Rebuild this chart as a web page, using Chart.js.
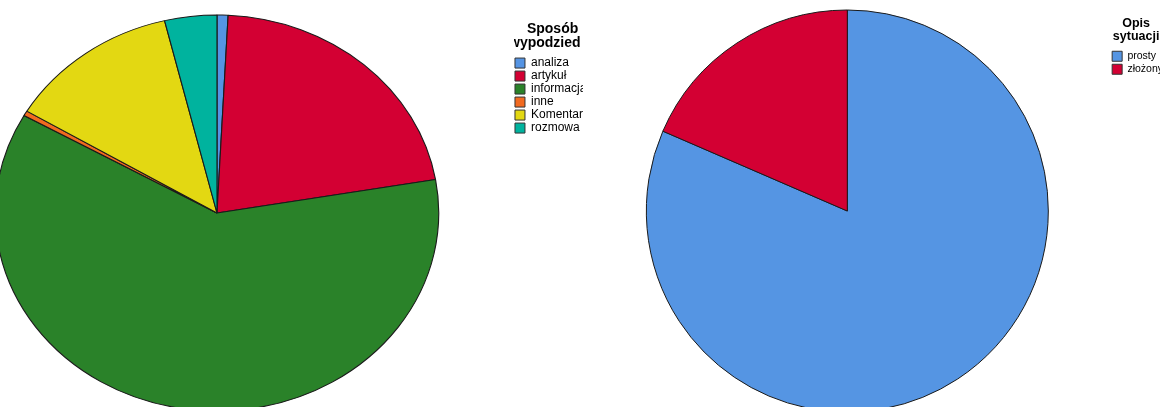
<!DOCTYPE html>
<html>
<head>
<meta charset="utf-8">
<script src="https://cdn.jsdelivr.net/npm/chart.js@4.4.1/dist/chart.umd.min.js"></script>
<style>
  html, body { margin: 0; padding: 0; background: #fff; }
  #wrap { position: relative; width: 1160px; height: 407px; overflow: hidden; }
  .box { position: absolute; top: 0; height: 407px; overflow: hidden; }
  #boxLewy { left: 0; width: 583px; }
  #boxPrawy { left: 585px; width: 575px; }
  canvas { position: absolute; top: 0; }
  #wykresSposob { left: -80px; }
  #wykresOpis { left: 0; }
</style>
</head>
<body>
<div id="wrap">
  <div class="box" id="boxLewy"><canvas id="wykresSposob" width="679" height="407"></canvas></div>
  <div class="box" id="boxPrawy"><canvas id="wykresOpis" width="588" height="407"></canvas></div>
</div>
<script>
// dane (udział w %)
const sposobLabels = ['analiza', 'artykuł', 'informacja', 'inne', 'Komentarz', 'rozmowa'];
const sposobValues = [0.8, 21.5, 60.9, 0.4, 12.6, 3.8];
const sposobColors = ['#5594E3', '#D30033', '#2A8229', '#F26A20', '#E3D812', '#00B39E'];

const opisLabels = ['prosty', 'złożony'];
const opisValues = [81.5, 18.5];
const opisColors = ['#5595E3', '#D30033'];

// tytuły legend (twarde spacje na końcu przesuwają wyśrodkowany tekst w lewo)
const sposobTytul = ['Sposób\u00a0\u00a0', 'wypodzied\u00a0\u00a0\u00a0\u00a0\u00a0\u00a0'];
const opisTytul = ['Opis\u00a0\u00a0\u00a0', 'sytuacji\u00a0\u00a0\u00a0'];

// rozciąga koło w poziomie (wykres po lewej jest lekko owalny)
const owal = {
  id: 'owal',
  beforeDatasetsDraw(chart, args, opts) {
    const arc = chart.getDatasetMeta(0).data[0];
    const ctx = chart.ctx;
    ctx.save();
    ctx.translate(arc.x, arc.y);
    ctx.scale(opts.sx || 1, 1);
    ctx.translate(-arc.x, -arc.y);
  },
  afterDatasetsDraw(chart) {
    chart.ctx.restore();
  }
};

function opcjeLegendy(tytul, rozmiarTytulu, rozmiar, odstep, odstepTytulu) {
  return {
    position: 'right',
    align: 'start',
    title: {
      display: true,
      text: tytul,
      color: '#000',
      font: { family: 'Liberation Sans', size: rozmiarTytulu, weight: 'bold', lineHeight: 1.04 },
      padding: { top: odstepTytulu[0], bottom: odstepTytulu[1] }
    },
    labels: {
      boxWidth: 10,
      boxHeight: 10,
      padding: odstep,
      color: '#222',
      font: { family: 'Liberation Sans', size: rozmiar },
      generateLabels(chart) {
        const ds = chart.data.datasets[0];
        return chart.data.labels.map((l, i) => ({
          text: l,
          fillStyle: ds.backgroundColor[i],
          strokeStyle: '#333',
          lineWidth: 1,
          index: i
        }));
      }
    }
  };
}

new Chart(document.getElementById('wykresSposob'), {
  type: 'pie',
  data: {
    labels: sposobLabels,
    datasets: [{
      data: sposobValues,
      backgroundColor: sposobColors,
      borderColor: '#1a1a1a',
      borderWidth: 1
    }]
  },
  options: {
    responsive: false,
    animation: false,
    radius: 198,
    layout: { padding: { left: 0, top: 19, right: 0, bottom: 0 } },
    plugins: {
      owal: { sx: 1.12 },
      legend: opcjeLegendy(sposobTytul, 14, 12, 1, [3, 19.5]),
      tooltip: { enabled: false }
    }
  },
  plugins: [owal]
});

new Chart(document.getElementById('wykresOpis'), {
  type: 'pie',
  data: {
    labels: opisLabels,
    datasets: [{
      data: opisValues,
      backgroundColor: opisColors,
      borderColor: '#1a1a1a',
      borderWidth: 1
    }]
  },
  options: {
    responsive: false,
    animation: false,
    radius: 201,
    layout: { padding: { left: 0, top: 15, right: 0, bottom: 0 } },
    plugins: {
      owal: { sx: 1 },
      legend: opcjeLegendy(opisTytul, 12.5, 10.5, 2.5, [2, 18.5]),
      tooltip: { enabled: false }
    }
  },
  plugins: [owal]
});
</script>
</body>
</html>
